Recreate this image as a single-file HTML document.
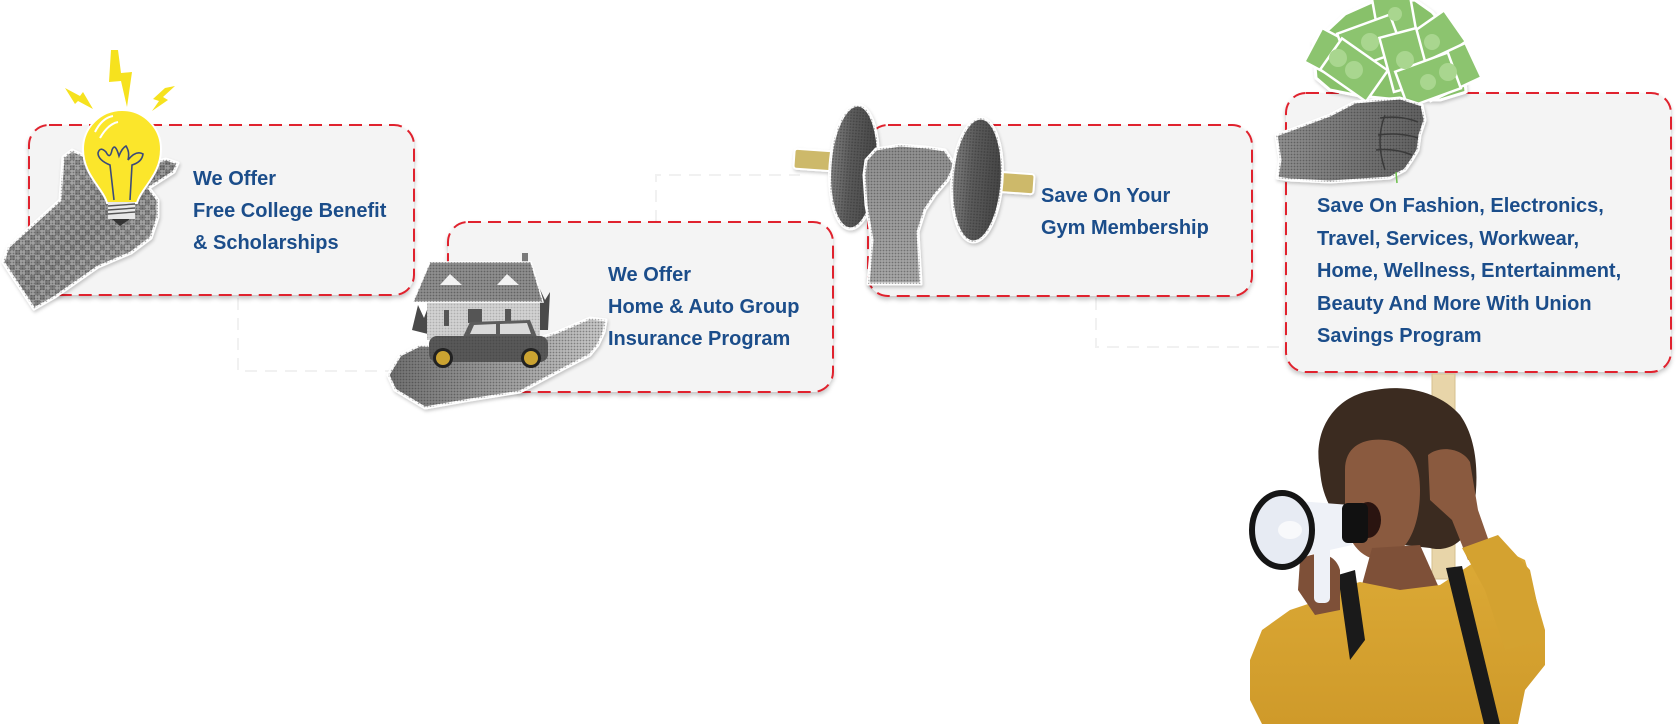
<!DOCTYPE html>
<html>
<head>
<meta charset="utf-8">
<style>
  html,body{margin:0;padding:0;background:#ffffff;}
  body{width:1676px;height:724px;overflow:hidden;position:relative;}
  svg{position:absolute;left:0;top:0;display:block;}
  .t{font-family:"Liberation Sans",Arial,sans-serif;font-weight:700;font-size:20px;fill:#1b4d8a;}
</style>
</head>
<body>
<svg width="1676" height="724" viewBox="0 0 1676 724" xmlns="http://www.w3.org/2000/svg">
  <defs>
    <filter id="sh" x="-10%" y="-10%" width="120%" height="130%">
      <feDropShadow dx="0" dy="3" stdDeviation="2" flood-color="#000" flood-opacity="0.22"/>
    </filter>
    <filter id="sh2" x="-10%" y="-10%" width="130%" height="130%">
      <feDropShadow dx="1" dy="2" stdDeviation="1.5" flood-color="#000" flood-opacity="0.2"/>
    </filter>
    <pattern id="dots" width="3" height="3" patternUnits="userSpaceOnUse">
      <circle cx="1.5" cy="1.5" r="0.9" fill="#222" fill-opacity="0.4"/>
    </pattern>
    <pattern id="check" width="10" height="10" patternUnits="userSpaceOnUse">
      <rect width="5" height="5" fill="#ffffff" fill-opacity="0.25"/>
      <rect x="5" y="5" width="5" height="5" fill="#ffffff" fill-opacity="0.25"/>
    </pattern>
    <linearGradient id="hand1" x1="0" y1="0" x2="1" y2="1">
      <stop offset="0" stop-color="#9a9a9a"/>
      <stop offset="0.5" stop-color="#7a7a7a"/>
      <stop offset="1" stop-color="#a8a8a8"/>
    </linearGradient>
    <linearGradient id="hand2" x1="0" y1="0" x2="1" y2="0">
      <stop offset="0" stop-color="#707070"/>
      <stop offset="0.6" stop-color="#a4a4a4"/>
      <stop offset="1" stop-color="#cacaca"/>
    </linearGradient>
    <linearGradient id="plate" x1="0" y1="0" x2="1" y2="0">
      <stop offset="0" stop-color="#808080"/>
      <stop offset="0.4" stop-color="#5c5c5c"/>
      <stop offset="1" stop-color="#444"/>
    </linearGradient>
    <linearGradient id="arm" x1="0" y1="0" x2="0" y2="1">
      <stop offset="0" stop-color="#909090"/>
      <stop offset="1" stop-color="#a8a8a8"/>
    </linearGradient>
    <linearGradient id="mhand" x1="0" y1="0" x2="1" y2="0">
      <stop offset="0" stop-color="#909090"/>
      <stop offset="0.6" stop-color="#727272"/>
      <stop offset="1" stop-color="#606060"/>
    </linearGradient>
    <linearGradient id="sweater" x1="0" y1="0" x2="0" y2="1">
      <stop offset="0" stop-color="#dcaa36"/>
      <stop offset="1" stop-color="#cf9a2a"/>
    </linearGradient>
  </defs>

  <!-- faint connectors -->
  <g fill="none" stroke="#f1f1f1" stroke-width="2" stroke-dasharray="12 8">
    <path d="M238 298 V371 H440"/>
    <path d="M656 222 V175 H800"/>
    <path d="M1096 298 V347 H1286"/>
  </g>

  <!-- boxes -->
  <g fill="#f4f4f4" stroke="#e0232e" stroke-width="2" stroke-dasharray="13 7" filter="url(#sh)">
    <rect x="29" y="125" width="385" height="170" rx="20" ry="20"/>
    <rect x="448" y="222" width="385" height="170" rx="20" ry="20"/>
    <rect x="868" y="125" width="384" height="171" rx="20" ry="20"/>
    <rect x="1286" y="93" width="385" height="279" rx="20" ry="20"/>
  </g>

  <!-- ========== Box 1 image: hand + light bulb ========== -->
  <g filter="url(#sh2)">
    <path d="M72 150 L63 157 L60 200 L8 247 L3 262 L34 309 L55 297 L98 267 L131 253 L151 238 L158 217 L158 200 L149 188 L174 172 L178 163 L166 159 L143 165 L130 172 L110 168 Z"
          fill="url(#hand1)" stroke="#ffffff" stroke-width="3" stroke-linejoin="round"/>
    <path d="M72 150 L63 157 L60 200 L8 247 L3 262 L34 309 L55 297 L98 267 L131 253 L151 238 L158 217 L158 200 L149 188 L174 172 L178 163 L166 159 L143 165 L130 172 L110 168 Z"
          fill="url(#check)"/>
    <path d="M72 150 L63 157 L60 200 L8 247 L3 262 L34 309 L55 297 L98 267 L131 253 L151 238 L158 217 L158 200 L149 188 L174 172 L178 163 L166 159 L143 165 L130 172 L110 168 Z"
          fill="url(#dots)"/>
  </g>
  <!-- bolts -->
  <g fill="#f6e21e">
    <path d="M111 50 L118 50 L121 73 L132 72 L127 107 L121 81 L109 82 Z"/>
    <path d="M65 88 L80 96 L83 92 L93 109 L78 101 L75 104 Z"/>
    <path d="M175 86 L163 97 L168 100 L152 111 L159 101 L153 99 L165 88 Z"/>
  </g>
  <!-- bulb -->
  <path d="M107 203 C103 188 83 175 83 149 A39 39 0 1 1 161 149 C161 175 141 188 137 203 Z" fill="#fbe62b" stroke="#ffffff" stroke-width="2"/>
  <path d="M95 132 Q102 118 113 116 M100 138 Q108 124 118 122" stroke="#ffffff" stroke-width="2" fill="none"/>
  <g stroke="#3b4a7a" stroke-width="1.6" fill="none">
    <path d="M114 200 L110 165 Q98 160 98 153 Q100 146 106 152 Q110 160 112 150 Q115 142 119 156 Q122 148 126 146 Q130 152 128 160 Q136 150 143 154 Q142 162 132 165 L130 200"/>
  </g>
  <rect x="108" y="202" width="27" height="17" fill="#e8e8e8"/>
  <g stroke="#555" stroke-width="1.4">
    <line x1="108" y1="206" x2="135" y2="204"/>
    <line x1="108" y1="210" x2="135" y2="208"/>
    <line x1="108" y1="214" x2="135" y2="212"/>
  </g>
  <path d="M112 219 L130 219 L120 226 Z" fill="#333"/>

  <!-- ========== Box 2 image: hand + house + car ========== -->
  <g filter="url(#sh2)">
    <path d="M400 355 L420 345 L500 350 L555 333 L590 318 L606 320 L604 332 L598 345 L590 355 L565 368 L520 392 L470 400 L425 408 L395 390 L388 375 Z"
          fill="url(#hand2)" stroke="#ffffff" stroke-width="3" stroke-linejoin="round"/>
    <path d="M400 355 L420 345 L500 350 L555 333 L590 318 L606 320 L604 332 L598 345 L590 355 L565 368 L520 392 L470 400 L425 408 L395 390 L388 375 Z" fill="url(#dots)"/>
  </g>
  <!-- trees -->
  <path d="M412 330 L418 305 L424 318 L430 302 L432 335 Z" fill="#4a4a4a"/>
  <path d="M530 300 L538 285 L545 300 L550 292 L548 330 L532 330 Z" fill="#4a4a4a"/>
  <!-- house -->
  <rect x="522" y="253" width="6" height="10" fill="#7a7a7a"/>
  <rect x="427" y="300" width="113" height="40" fill="#d2d2d2"/>
  <rect x="427" y="300" width="113" height="40" fill="url(#dots)" opacity="0.5"/>
  <g fill="#555">
    <rect x="444" y="310" width="5" height="16"/>
    <rect x="468" y="309" width="14" height="14"/>
    <rect x="505" y="309" width="6" height="12"/>
  </g>
  <path d="M413 302 L430 262 L531 262 L543 302 Z" fill="#8e8e8e" stroke="#ffffff" stroke-width="1.5"/>
  <path d="M413 302 L430 262 L531 262 L543 302 Z" fill="url(#dots)"/>
  <path d="M440 285 L450 274 L462 285 Z" fill="#f2f2f2"/>
  <path d="M497 285 L507 274 L519 285 Z" fill="#f2f2f2"/>
  <!-- car -->
  <path d="M463 337 L470 322 L530 320 L537 337 Z" fill="#5c5c5c"/>
  <path d="M470 334 L474 325 L496 324 L496 334 Z M500 324 L527 323 L531 334 L500 334 Z" fill="#d9d9d9"/>
  <rect x="429" y="336" width="119" height="26" rx="8" fill="#585858"/>
  <rect x="429" y="336" width="119" height="26" rx="8" fill="url(#dots)" opacity="0.6"/>
  <circle cx="443" cy="358" r="10" fill="#222"/>
  <circle cx="443" cy="358" r="7" fill="#cba331"/>
  <circle cx="531" cy="358" r="10" fill="#222"/>
  <circle cx="531" cy="358" r="7" fill="#cba331"/>

  <!-- ========== Box 3 image: dumbbell + fist ========== -->
  <g filter="url(#sh2)">
    <rect x="794" y="150" width="40" height="20" rx="3" fill="#cdb96a" stroke="#ffffff" stroke-width="2" transform="rotate(4 814 160)"/>
    <rect x="996" y="173" width="38" height="20" rx="3" fill="#cdb96a" stroke="#ffffff" stroke-width="2" transform="rotate(4 1015 183)"/>
    <ellipse cx="854" cy="167" rx="24" ry="62" fill="url(#plate)" stroke="#ffffff" stroke-width="3" transform="rotate(4 854 167)"/>
    <ellipse cx="854" cy="167" rx="24" ry="62" fill="url(#dots)" transform="rotate(4 854 167)"/>
    <rect x="875" y="162" width="80" height="18" fill="#777"/>
    <path d="M864 175 L866 160 L876 149 L900 145 L925 147 L945 150 L955 165 L948 180 L935 195 L925 210 L918 232 L921 284 L868 284 L872 240 L866 205 Z"
          fill="url(#arm)" stroke="#ffffff" stroke-width="3" stroke-linejoin="round"/>
    <path d="M864 175 L866 160 L876 149 L900 145 L925 147 L945 150 L955 165 L948 180 L935 195 L925 210 L918 232 L921 284 L868 284 L872 240 L866 205 Z" fill="url(#dots)"/>
    <ellipse cx="977" cy="180" rx="25" ry="62" fill="url(#plate)" stroke="#ffffff" stroke-width="3" transform="rotate(4 977 180)"/>
    <ellipse cx="977" cy="180" rx="25" ry="62" fill="url(#dots)" transform="rotate(4 977 180)"/>
  </g>

  <!-- ========== Box 4 image: money + hand ========== -->
  <path d="M1316 78 L1313 42 L1330 28 L1345 14 L1372 2 L1415 0 L1432 12 L1448 30 L1462 52 L1466 92 L1440 100 L1400 100 L1360 96 L1330 90 Z"
        fill="#88c16b" stroke="#ffffff" stroke-width="3" filter="url(#sh2)"/>
  <g stroke="#ffffff" stroke-width="2.5" fill="#8cc46f">
    <rect x="-28" y="-19" width="56" height="38" transform="translate(1338 58) rotate(28)"/>
    <rect x="-28" y="-19" width="56" height="38" transform="translate(1395 20) rotate(80)"/>
    <rect x="-28" y="-19" width="56" height="38" transform="translate(1432 42) rotate(-35)"/>
    <rect x="-28" y="-19" width="56" height="38" transform="translate(1370 42) rotate(-20)"/>
    <rect x="-28" y="-19" width="56" height="38" transform="translate(1448 72) rotate(-25)"/>
    <rect x="-28" y="-19" width="56" height="38" transform="translate(1354 70) rotate(35)"/>
    <rect x="-28" y="-19" width="56" height="38" transform="translate(1405 60) rotate(75)"/>
    <rect x="-28" y="-19" width="56" height="38" transform="translate(1428 80) rotate(-20)"/>
  </g>
  <g fill="#a9d68f">
    <circle cx="1338" cy="58" r="9"/>
    <circle cx="1448" cy="72" r="9"/>
    <circle cx="1432" cy="42" r="8"/>
    <circle cx="1370" cy="42" r="9"/>
    <circle cx="1354" cy="70" r="9"/>
    <circle cx="1405" cy="60" r="9"/>
    <circle cx="1428" cy="82" r="8"/>
    <circle cx="1395" cy="14" r="7"/>
  </g>
  <g filter="url(#sh2)">
    <path d="M1276 135 L1290 130 L1330 115 L1355 102 L1400 98 L1422 105 L1425 120 L1420 135 L1418 150 L1412 160 L1405 170 L1390 178 L1360 180 L1330 182 L1290 180 L1277 178 L1280 160 Z"
          fill="url(#mhand)" stroke="#ffffff" stroke-width="3" stroke-linejoin="round"/>
    <path d="M1276 135 L1290 130 L1330 115 L1355 102 L1400 98 L1422 105 L1425 120 L1420 135 L1418 150 L1412 160 L1405 170 L1390 178 L1360 180 L1330 182 L1290 180 L1277 178 L1280 160 Z" fill="url(#dots)"/>
  </g>
  <g stroke="#3a3a3a" stroke-width="1.5" fill="none">
    <path d="M1380 118 Q1400 115 1418 122"/>
    <path d="M1378 135 Q1400 132 1418 138"/>
    <path d="M1376 150 Q1395 148 1412 155"/>
    <path d="M1385 115 Q1375 140 1385 170"/>
  </g>
  <line x1="1396" y1="172" x2="1397" y2="183" stroke="#6cbf4a" stroke-width="1.5"/>

  <!-- ========== Woman with megaphone ========== -->
  <rect x="1432" y="374" width="23" height="205" fill="#e8d5a9" stroke="#d6c08e" stroke-width="1"/>
  <!-- hair -->
  <path d="M1320 470 C1312 430 1335 395 1375 390 C1405 384 1440 392 1460 415 C1478 440 1480 480 1472 520 C1465 545 1445 552 1430 548 L1360 540 C1335 520 1322 500 1320 470 Z" fill="#3b2b20"/>
  <!-- face -->
  <path d="M1345 470 C1345 445 1365 438 1385 440 C1410 442 1420 462 1420 490 C1420 530 1405 555 1383 560 C1360 560 1345 540 1345 512 Z" fill="#8a5a3f"/>
  <ellipse cx="1368" cy="520" rx="13" ry="18" fill="#2a1410"/>
  <!-- neck -->
  <path d="M1372 548 L1420 545 L1440 590 L1360 592 Z" fill="#7e5038"/>
  <!-- sweater body -->
  <path d="M1330 590 L1360 582 L1400 590 L1440 585 L1470 565 L1500 548 L1525 560 L1545 630 L1545 665 L1525 690 L1518 724 L1262 724 L1250 700 L1250 660 L1262 630 L1290 610 L1320 600 Z" fill="url(#sweater)"/>
  <!-- raised arm (skin) + hand on stick -->
  <path d="M1428 455 C1440 445 1462 448 1470 462 L1478 510 L1492 550 L1468 560 L1452 520 L1430 500 Z" fill="#8a5a3f"/>
  <!-- sleeve cuff right -->
  <path d="M1462 548 L1498 535 L1530 570 L1545 640 L1505 650 L1485 590 Z" fill="#d4a230"/>
  <!-- straps -->
  <path d="M1338 575 L1355 570 L1365 640 L1350 660 Z" fill="#1a1a1a"/>
  <path d="M1446 568 L1462 566 L1500 724 L1484 724 Z" fill="#1a1a1a"/>
  <!-- left hand holding megaphone -->
  <path d="M1300 560 C1315 550 1335 552 1340 570 L1340 610 L1315 615 L1298 590 Z" fill="#7e5038"/>
  <!-- megaphone -->
  <path d="M1285 500 L1350 505 L1352 545 L1285 560 Z" fill="#eef1f7"/>
  <ellipse cx="1282" cy="530" rx="30" ry="37" fill="#e7ebf3" stroke="#151515" stroke-width="6"/>
  <ellipse cx="1290" cy="530" rx="12" ry="9" fill="#f8f9fb"/>
  <rect x="1342" y="503" width="26" height="40" rx="6" fill="#111"/>
  <rect x="1314" y="545" width="16" height="58" rx="5" fill="#eef1f7"/>

  <!-- ========== Text ========== -->
  <text class="t" x="193" y="185">We Offer</text>
  <text class="t" x="193" y="217">Free College Benefit</text>
  <text class="t" x="193" y="249">&amp; Scholarships</text>

  <text class="t" x="608" y="281">We Offer</text>
  <text class="t" x="608" y="313">Home &amp; Auto Group</text>
  <text class="t" x="608" y="345">Insurance Program</text>

  <text class="t" x="1041" y="202">Save On Your</text>
  <text class="t" x="1041" y="234">Gym Membership</text>

  <text class="t" x="1317" y="212">Save On Fashion, Electronics,</text>
  <text class="t" x="1317" y="245">Travel, Services, Workwear,</text>
  <text class="t" x="1317" y="277">Home, Wellness, Entertainment,</text>
  <text class="t" x="1317" y="310">Beauty And More With Union</text>
  <text class="t" x="1317" y="342">Savings Program</text>
</svg>
</body>
</html>
